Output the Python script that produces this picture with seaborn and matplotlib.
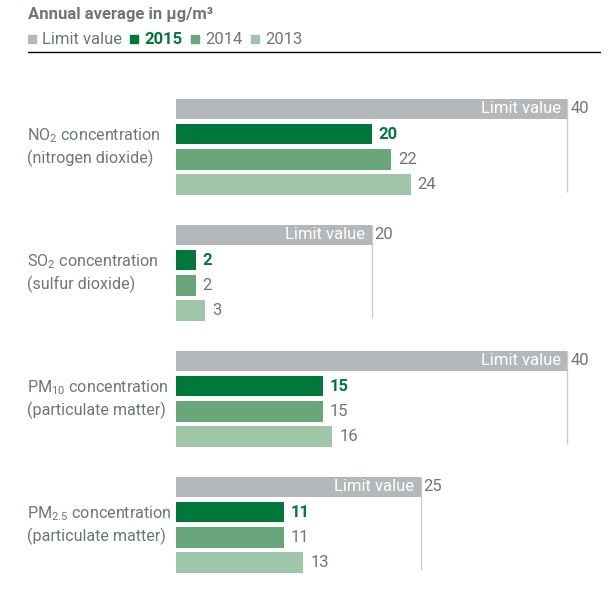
import matplotlib
matplotlib.use("Agg")
import matplotlib.pyplot as plt
import seaborn as sns
import pandas as pd
from matplotlib.lines import Line2D
from matplotlib.transforms import blended_transform_factory, offset_copy

# Annual average concentrations (µg/m³)
pollutants = ["NO$_2$ concentration", "SO$_2$ concentration",
              "PM$_{10}$ concentration", "PM$_{2.5}$ concentration"]
descriptions = ["(nitrogen dioxide)", "(sulfur dioxide)",
                "(particulate matter)", "(particulate matter)"]
series = ["Limit value", "2015", "2014", "2013"]
limit_values = [40, 20, 40, 25]
values_2015 = [20, 2, 15, 11]
values_2014 = [22, 2, 15, 11]
values_2013 = [24, 3, 16, 13]

colors = {"Limit value": "#b4b8bb", "2015": "#00773b",
          "2014": "#69a67a", "2013": "#9fc6a8"}
TEXT_GRAY = "#6f757a"
VLINE_GRAY = "#c9cccf"

sns.set_theme(style="white")
plt.rcParams["font.family"] = ["Roboto", "DejaVu Sans"]
plt.rcParams["mathtext.default"] = "regular"
FS = 12

# Long-form table: each pollutant occupies 5 slots (4 bars + gap)
rows = []
for g, vals in enumerate(zip(limit_values, values_2015, values_2014, values_2013)):
    for j, (s, v) in enumerate(zip(series, vals)):
        rows.append({"pos": g * 5 + j, "value": v, "series": s, "group": g})
df = pd.DataFrame(rows)

fig = plt.figure(figsize=(6.15, 6.0), dpi=100)
ax = fig.add_axes([176 / 615, 15 / 600, 424 / 615, 500 / 600])

sns.barplot(data=df, x="value", y="pos", hue="series", palette=colors,
            orient="h", native_scale=True, dodge=False, width=0.81,
            saturation=1, linewidth=0, legend=False, ax=ax)

ax.set_xlim(0, 43.35)
ax.set_ylim(18.89, -0.952)
ax.axis("off")

# Reference lines dropping from each limit bar
for g, lim in enumerate(limit_values):
    ax.vlines(lim, g * 5 - 0.4, g * 5 + 3.3, color=VLINE_GRAY, lw=1, zorder=0)

# Value labels
for _, r in df.iterrows():
    if r["series"] == "Limit value":
        ax.text(r["value"], r["pos"], "Limit value", color="white", fontsize=FS,
                ha="right", va="center",
                transform=offset_copy(ax.transData, fig=fig, x=-6, y=0, units="dots"))
        ax.text(r["value"], r["pos"], f"{r['value']:g}", color=TEXT_GRAY, fontsize=FS,
                ha="left", va="center",
                transform=offset_copy(ax.transData, fig=fig, x=3, y=0, units="dots"))
    else:
        bold = r["series"] == "2015"
        ax.text(r["value"], r["pos"], f"{r['value']:g}",
                color=colors["2015"] if bold else TEXT_GRAY,
                fontweight="bold" if bold else "normal", fontsize=FS,
                ha="left", va="center",
                transform=offset_copy(ax.transData, fig=fig, x=7, y=0, units="dots"))

# Category labels, left aligned in the margin
LFS = 11.6
lab_tr = blended_transform_factory(fig.transFigure, ax.transData)
for g, (name, desc) in enumerate(zip(pollutants, descriptions)):
    ax.text(27 / 615, g * 5 + 1.05, name, color=TEXT_GRAY, fontsize=LFS,
            ha="left", va="center", transform=lab_tr)
    ax.text(27 / 615, g * 5 + 1.95, desc, color=TEXT_GRAY, fontsize=LFS,
            ha="left", va="center", transform=lab_tr)

# Header
fig.text(28 / 615, 1 - 14 / 600, "Annual average in µg/m³", color=TEXT_GRAY,
         fontsize=FS, fontweight="semibold", ha="left", va="center")

handles = [Line2D([], [], marker="s", ls="", color=colors[s], markersize=5.5)
           for s in series]
leg = fig.legend(handles, series, loc="center left",
                 bbox_to_anchor=(27 / 615, 1 - 40 / 600), ncol=4, frameon=False,
                 handlelength=0.55, handletextpad=0.35, columnspacing=0.45,
                 borderaxespad=0, borderpad=0, fontsize=FS)
for s, t in zip(series, leg.get_texts()):
    if s == "2015":
        t.set_color(colors["2015"])
        t.set_fontweight("bold")
    else:
        t.set_color(TEXT_GRAY)

fig.add_artist(Line2D([28 / 615, 600 / 615], [1 - 52 / 600, 1 - 52 / 600],
                      color="black", lw=1, transform=fig.transFigure))

fig.savefig("out.png", dpi=100, facecolor="white")
